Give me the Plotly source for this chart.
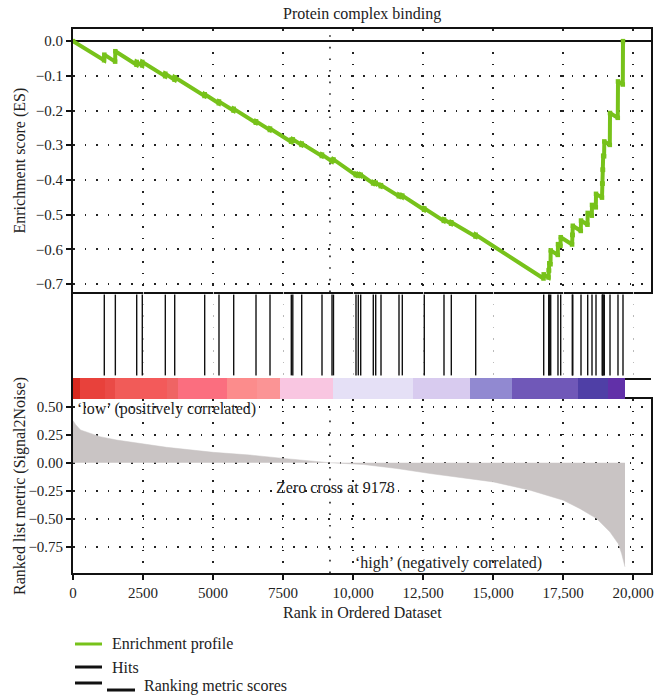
import plotly.graph_objects as go

# ---------------- data ----------------
title_text = "Protein complex binding"

es_rank = [0, 1110, 1118, 1505, 1512, 2268, 2275, 2468, 2475, 3290, 3297, 3625, 3632,
           4696, 4703, 5207, 5214, 5732, 5739, 6529, 6536, 7029, 7036, 7790, 7797,
           7843, 7850, 8161, 8168, 8886, 8893, 9243, 9250, 9296, 9303, 10100, 10107,
           10183, 10190, 10268, 10275, 10718, 10725, 10804, 10811, 10993, 11000,
           11636, 11643, 11754, 11761, 12539, 12546, 13243, 13250, 13504, 13511,
           14375, 14382, 16804, 16811, 16983, 16990, 17003, 17010, 17054, 17061,
           17314, 17321, 17411, 17418, 17825, 17832, 17843, 17850, 18136, 18143,
           18375, 18382, 18529, 18536, 18672, 18679, 18893, 18900, 18911, 18918,
           18928, 18935, 18968, 18975, 19172, 19179, 19457, 19464, 19636, 19643]
es_value = [0.000, -0.055, -0.039, -0.059, -0.029, -0.068, -0.060, -0.070, -0.060,
            -0.101, -0.094, -0.111, -0.104, -0.158, -0.153, -0.179, -0.174, -0.200,
            -0.195, -0.235, -0.231, -0.256, -0.252, -0.290, -0.285, -0.287, -0.283,
            -0.299, -0.295, -0.331, -0.327, -0.346, -0.342, -0.345, -0.341, -0.386,
            -0.383, -0.387, -0.384, -0.388, -0.385, -0.410, -0.407, -0.411, -0.408,
            -0.418, -0.415, -0.447, -0.443, -0.449, -0.445, -0.486, -0.482, -0.518,
            -0.514, -0.526, -0.522, -0.563, -0.558, -0.684, -0.672, -0.681, -0.660,
            -0.661, -0.640, -0.643, -0.603, -0.616, -0.585, -0.590, -0.565, -0.586,
            -0.558, -0.559, -0.532, -0.547, -0.517, -0.529, -0.495, -0.503, -0.472,
            -0.479, -0.440, -0.451, -0.410, -0.411, -0.370, -0.371, -0.330, -0.332,
            -0.289, -0.299, -0.207, -0.221, -0.116, -0.125, 0.000]

hit_ranks = [1118, 1512, 2275, 2475, 3297, 3632, 4703, 5214, 5739, 6536, 7036, 7797,
             7850, 8168, 8893, 9250, 9303, 10107, 10190, 10275, 10725, 10811, 11000,
             11643, 11761, 12546, 13250, 13511, 14382, 16811, 16990, 17010, 17061,
             17321, 17418, 17832, 17850, 18143, 18382, 18536, 18679, 18900, 18918,
             18935, 18975, 19179, 19464, 19643]

metric_rank = [0, 95, 270, 600, 964, 1560, 2512, 3345, 5012, 6321, 7512, 8702, 9179,
               10369, 11560, 12750, 13940, 15012, 16321, 17512, 18107, 18702, 19179,
               19476, 19595, 19690, 19714]
metric_value = [0.377, 0.340, 0.293, 0.263, 0.233, 0.203, 0.165, 0.138, 0.093, 0.069,
                0.039, 0.015, 0.000, -0.015, -0.051, -0.096, -0.132, -0.171, -0.245,
                -0.335, -0.410, -0.499, -0.619, -0.724, -0.813, -0.930, -0.930]

heat_edges = [0, 250, 1143, 1500, 2393, 3357, 3750, 5500, 6571, 7393, 9286, 12143,
              14179, 15679, 18036, 19107, 19714]
heat_colors = ["#d8281e", "#e8413b", "#ea4a46", "#f15b58", "#f35a5a", "#ef6464",
               "#fb6e7f", "#fc8c8c", "#fb9495", "#f9c6e1", "#e5e0f6", "#d8cbef",
               "#9189d1", "#7058b8", "#4f3fa6", "#6130a8"]

x_tickvals = [0, 2500, 5000, 7500, 10000, 12500, 15000, 17500, 20000]
x_ticktext = ["0", "2500", "5000", "7500", "10,000", "12,500", "15,000", "17,500", "20,000"]
es_tickvals = [0.0, -0.1, -0.2, -0.3, -0.4, -0.5, -0.6, -0.7]
metric_tickvals = [0.5, 0.25, 0.0, -0.25, -0.5, -0.75]
zero_cross = 9178

legend_labels = ["Enrichment profile", "Hits", "Ranking metric scores"]

# ---------------- style ----------------
FONT = "Liberation Serif, Times New Roman, serif"
GREEN = "#77c21a"
GRAY_FILL = "#c9c4c4"
DOT = "1.6px,10px"
X_RANGE = [0, 20643]
Y_BOT = [0, 0.3199]
Y_BAR = [0.3199, 0.3585]
Y_HIT = [0.3585, 0.5165]
Y_TOP = [0.5165, 1.0]

fig = go.Figure()

# Enrichment profile
fig.add_trace(go.Scatter(x=es_rank, y=es_value, xaxis="x2", yaxis="y2", mode="lines+markers",
                         line=dict(color=GREEN, width=4), marker=dict(color=GREEN, size=4.5, symbol="square"),
                         showlegend=False, hoverinfo="skip"))

# Hits
hx, hy = [], []
for h in hit_ranks:
    hx += [h, h, None]
    hy += [0.03, 0.97, None]
fig.add_trace(go.Scatter(x=hx, y=hy, xaxis="x3", yaxis="y3", mode="lines",
                         line=dict(color="#111111", width=1.4), showlegend=False, hoverinfo="skip"))

# Heat bar
centers = [(heat_edges[i] + heat_edges[i + 1]) / 2 for i in range(len(heat_colors))]
widths = [heat_edges[i + 1] - heat_edges[i] for i in range(len(heat_colors))]
fig.add_trace(go.Bar(x=centers, y=[1] * len(centers), width=widths, base=0,
                     xaxis="x4", yaxis="y4", marker=dict(color=heat_colors, line=dict(width=0)),
                     showlegend=False, hoverinfo="skip"))

# Ranked metric
fig.add_trace(go.Scatter(x=metric_rank, y=metric_value, xaxis="x", yaxis="y", mode="lines",
                         fill="tozeroy", fillcolor=GRAY_FILL, line=dict(color=GRAY_FILL, width=0.5),
                         showlegend=False, hoverinfo="skip"))

tickfont = dict(family=FONT, size=15, color="#222")
common_x = dict(range=X_RANGE, showline=True, linecolor="#111", zeroline=False)

fig.update_layout(
    width=666, height=699, autosize=False,
    margin=dict(l=73, r=15, t=29, b=126),
    paper_bgcolor="white", plot_bgcolor="white",
    font=dict(family=FONT, size=16, color="#222"),
    bargap=0,
    xaxis=dict(domain=[0, 1], anchor="y", tickvals=x_tickvals, ticktext=x_ticktext,
               ticks="outside", ticklen=5, tickwidth=1.5, tickcolor="#111", tickfont=tickfont,
               linewidth=1.8, mirror=True, showgrid=True, gridcolor="#222", gridwidth=1.6,
               griddash=DOT, **common_x),
    yaxis=dict(domain=Y_BOT, anchor="x", range=[-0.985, 0.57], tickvals=metric_tickvals,
               tickformat=".2f", ticks="outside", ticklen=5, tickwidth=1.5, tickcolor="#111",
               tickfont=tickfont, showline=True, linecolor="#111", linewidth=1.8, mirror=True,
               showgrid=True, gridcolor="#222", gridwidth=1.6, griddash=DOT, zeroline=False),
    xaxis2=dict(domain=[0, 1], anchor="y2", matches="x", tickvals=x_tickvals, showticklabels=False,
                ticks="", linewidth=2, mirror=True, showgrid=True, gridcolor="#222", gridwidth=1.6,
                griddash=DOT, **common_x),
    yaxis2=dict(domain=Y_TOP, anchor="x2", range=[-0.723, 0.035], tickvals=es_tickvals,
                tickformat=".1f", ticks="outside", ticklen=5, tickwidth=1.5, tickcolor="#111",
                tickfont=tickfont, showline=True, linecolor="#111", linewidth=2, mirror=True,
                showgrid=True, gridcolor="#222", gridwidth=1.6, griddash=DOT,
                zeroline=True, zerolinecolor="#111", zerolinewidth=2.2),
    xaxis3=dict(domain=[0, 1], anchor="y3", matches="x", tickvals=x_tickvals, showticklabels=False,
                ticks="", linewidth=2.2, mirror=False, showgrid=True, gridcolor="#bbbbbb",
                gridwidth=1, griddash=DOT, **common_x),
    yaxis3=dict(domain=Y_HIT, anchor="x3", range=[0, 1], showticklabels=False, ticks="",
                showgrid=False, zeroline=False, showline=True, linecolor="#111", linewidth=2),
    xaxis4=dict(domain=[0, 1], anchor="y4", matches="x", range=X_RANGE, showticklabels=False,
                ticks="", showgrid=False, zeroline=False, showline=False),
    yaxis4=dict(domain=Y_BAR, anchor="x4", range=[0, 1], showticklabels=False, ticks="",
                showgrid=False, zeroline=False, showline=True, linecolor="#111", linewidth=2),
)

shapes = [
    dict(type="line", xref="x2", yref="y2 domain", x0=zero_cross, x1=zero_cross, y0=0, y1=1,
         line=dict(color="#222", width=1.6, dash=DOT), layer="below"),
    dict(type="line", xref="x", yref="y domain", x0=zero_cross, x1=zero_cross, y0=0, y1=1,
         line=dict(color="#222", width=1.6, dash=DOT), layer="below"),
    # legend glyphs
    dict(type="line", xref="paper", yref="paper", x0=0.0035, x1=0.0502, y0=-0.1305, y1=-0.1305,
         line=dict(color=GREEN, width=3)),
    dict(type="line", xref="paper", yref="paper", x0=0.0035, x1=0.0502, y0=-0.1728, y1=-0.1728,
         line=dict(color="#111", width=3)),
    dict(type="line", xref="paper", yref="paper", x0=0.0035, x1=0.0502, y0=-0.2022, y1=-0.2022,
         line=dict(color="#111", width=3)),
    dict(type="line", xref="paper", yref="paper", x0=0.0588, x1=0.1073, y0=-0.2151, y1=-0.2151,
         line=dict(color="#111", width=3)),
]
fig.update_layout(shapes=shapes)

ann_font = dict(family=FONT, size=16, color="#222")
annotations = [
    dict(text=title_text, xref="paper", yref="paper", x=0.5, y=1.0276, xanchor="center",
         yanchor="middle", showarrow=False, font=ann_font),
    dict(text="Enrichment score (ES)", xref="paper", yref="paper", x=-0.0917,
         y=(Y_TOP[0] + Y_TOP[1]) / 2, textangle=-90, xanchor="center", yanchor="middle",
         showarrow=False, font=ann_font),
    dict(text="Ranked list metric (Signal2Noise)", xref="paper", yref="paper", x=-0.0917,
         y=(Y_BOT[0] + Y_BOT[1]) / 2, textangle=-90, xanchor="center", yanchor="middle",
         showarrow=False, font=ann_font),
    dict(text="Rank in Ordered Dataset", xref="paper", yref="paper", x=0.5, y=-0.0735,
         xanchor="center", yanchor="middle", showarrow=False, font=ann_font),
    dict(text="\u2018low\u2019 (positively correlated)", xref="paper", yref="paper", x=0.004,
         y=0.3015, xanchor="left", yanchor="middle", showarrow=False, font=ann_font),
    dict(text="Zero cross at " + str(zero_cross), xref="paper", yref="paper", x=0.4533, y=0.158,
         xanchor="center", yanchor="middle", showarrow=False, font=ann_font),
    dict(text="\u2018high\u2019 (negatively correlated)", xref="paper", yref="paper", x=0.6505,
         y=0.0184, xanchor="center", yanchor="middle", showarrow=False, font=ann_font),
    dict(text=legend_labels[0], xref="paper", yref="paper", x=0.064, y=-0.1305,
         xanchor="left", yanchor="middle", showarrow=False, font=ann_font),
    dict(text=legend_labels[1], xref="paper", yref="paper", x=0.064, y=-0.1728,
         xanchor="left", yanchor="middle", showarrow=False, font=ann_font),
    dict(text=legend_labels[2], xref="paper", yref="paper", x=0.1194, y=-0.2077,
         xanchor="left", yanchor="middle", showarrow=False, font=ann_font),
]
fig.update_layout(annotations=annotations)

fig.write_html("out.html")
